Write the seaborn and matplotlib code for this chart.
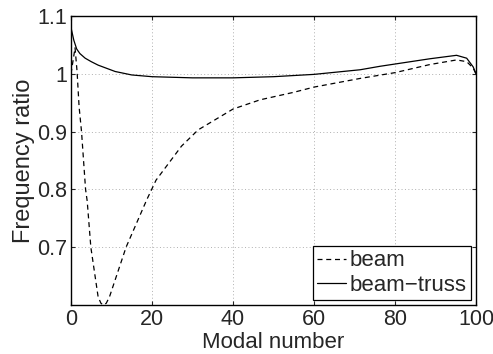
import matplotlib
matplotlib.use("Agg")
import matplotlib.pyplot as plt
import seaborn as sns
import pandas as pd

# ---- data ----
beam_x = [0, 1, 1.5, 2, 2.6, 3.6, 4.0, 4.9, 6.7, 7.4, 8.0, 8.7, 9.5, 13.6, 18.7,
          21, 27.3, 31.4, 40, 46.7, 55, 60, 71.4, 80, 88.6, 95.2, 97.7, 99.3, 100]
beam_y = [1.0, 1.045, 1.004, 0.943, 0.90, 0.80, 0.78, 0.70, 0.614, 0.603, 0.600,
          0.603, 0.614, 0.70, 0.782, 0.816, 0.875, 0.903, 0.939, 0.955, 0.968,
          0.977, 0.992, 1.002, 1.016, 1.024, 1.021, 1.010, 1.0]

truss_x = [0, 0.7, 1.4, 2.2, 3.5, 5, 6.7, 10.9, 15, 20, 30, 40, 50, 60, 71.4, 76.3,
           88.6, 95.2, 97.7, 99.3, 100]
truss_y = [1.08, 1.058, 1.043, 1.035, 1.027, 1.021, 1.015, 1.004, 0.998, 0.995,
           0.993, 0.993, 0.995, 0.999, 1.007, 1.013, 1.026, 1.032, 1.027, 1.012, 1.0]

x_ticks = [0, 20, 40, 60, 80, 100]
y_ticks = [0.7, 0.8, 0.9, 1.0, 1.1]
y_tick_labels = ["0.7", "0.8", "0.9", "1", "1.1"]
series_names = ["beam", "beam\u2212truss"]

sns.set_style("white")
plt.rcParams["font.family"] = ["Liberation Sans", "DejaVu Sans"]

fig = plt.figure(figsize=(4.93, 3.54), dpi=100)
ax = fig.add_axes([0.144, 0.1384, 0.8215, 0.8164])

df_beam = pd.DataFrame({"x": beam_x, "y": beam_y})
df_truss = pd.DataFrame({"x": truss_x, "y": truss_y})

sns.lineplot(data=df_beam, x="x", y="y", ax=ax, color="black", linewidth=0.9,
             linestyle=(0, (4, 3)), label=series_names[0], sort=False)
sns.lineplot(data=df_truss, x="x", y="y", ax=ax, color="black", linewidth=0.9,
             label=series_names[1], sort=False)

ax.set_xlim(0, 100)
ax.set_ylim(0.6, 1.1)
ax.set_xticks(x_ticks)
ax.set_xticklabels([str(t) for t in x_ticks])
ax.set_yticks(y_ticks)
ax.set_yticklabels(y_tick_labels)
ax.tick_params(direction="in", length=3, width=0.8, labelsize=15.5,
               top=True, right=True, bottom=True, left=True, pad=3)
ax.grid(True, color="#b0b0b0", linestyle=(0, (1, 2.5)), linewidth=0.7)
for s in ax.spines.values():
    s.set_color("black")
    s.set_linewidth(1.0)
    s.set_visible(True)

ax.set_xlabel("Modal number", fontsize=16, labelpad=1)
ax.set_ylabel("Frequency ratio", fontsize=17, labelpad=1)

leg = ax.legend(loc="lower right", bbox_to_anchor=(0.988, 0.017), borderaxespad=0,
                fontsize=16, frameon=True, fancybox=False, edgecolor="black",
                framealpha=1, handlelength=1.3, handletextpad=0.17,
                borderpad=0.2, labelspacing=0.15)
leg.get_frame().set_linewidth(0.9)

fig.savefig("out.png", dpi=100)
